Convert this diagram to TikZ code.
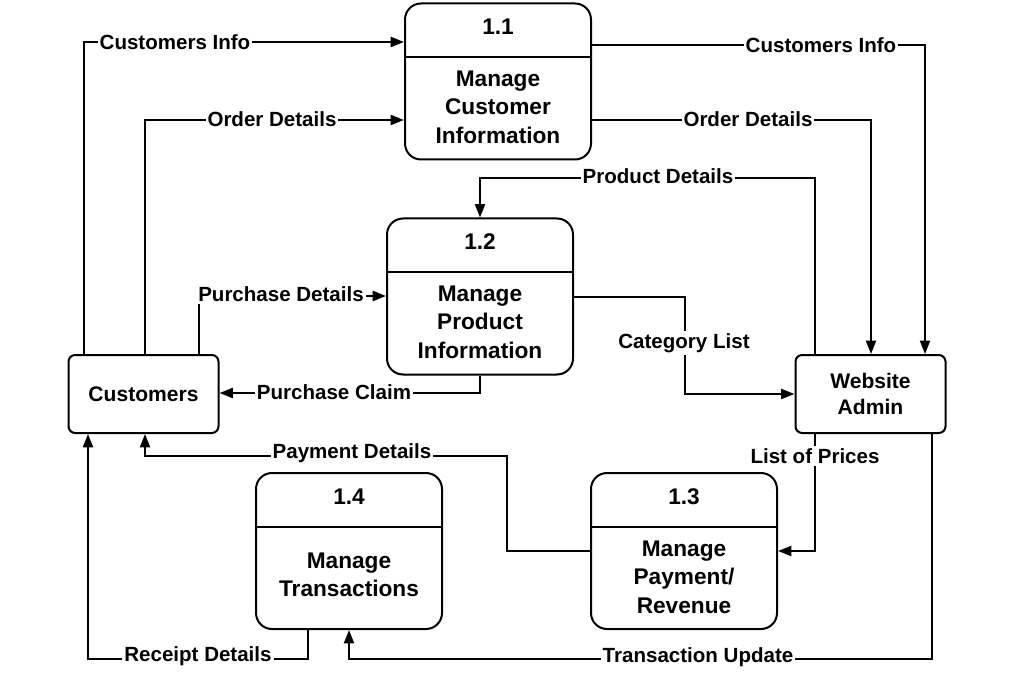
\documentclass[tikz,border=0pt]{standalone}
\usepackage{fontspec}
\setmainfont{Liberation Sans}
\usetikzlibrary{arrows.meta}
\begin{document}
\begin{tikzpicture}[x=0.75pt,y=-0.75pt,
 proc/.style={draw, line width=1.5pt, rounded corners=12pt, minimum width=139.5pt, minimum height=117pt, inner sep=0pt},
 ent/.style={draw, line width=1.5pt, rounded corners=5pt, minimum width=112.5pt, minimum height=58.5pt, inner sep=0pt, font=\bfseries\fontsize{15.8}{19.5}\selectfont, align=center},
 ptext/.style={font=\bfseries\fontsize{17}{21.4}\selectfont, align=center, inner sep=0pt},
 lbl/.style={fill=white, font=\bfseries\fontsize{15.4}{18}\selectfont, inner sep=1.5pt},
 flow/.style={line width=1.5pt, -{Triangle[length=10pt,width=7.5pt]}},
 divline/.style={line width=1.5pt}
]
\useasboundingbox (0,0) rectangle (1027,698);

% process boxes
\node[proc] (p11) at (498,81.5) {};
\node[proc] (p12) at (480,296.5) {};
\node[proc] (p14) at (349,551) {};
\node[proc] (p13) at (684,551) {};
\draw[divline] (p11.west |- 0,57) -- (p11.east |- 0,57);
\draw[divline] (p12.west |- 0,272) -- (p12.east |- 0,272);
\draw[divline] (p14.west |- 0,527) -- (p14.east |- 0,527);
\draw[divline] (p13.west |- 0,527) -- (p13.east |- 0,527);

\node[ptext] (n11) at (498,27) {1.1};
\node[ptext] (t11) at (498,107) {Manage\\Customer\\Information};
\node[ptext] (n12) at (480,242) {1.2};
\node[ptext] (t12) at (480,322) {Manage\\Product\\Information};
\node[ptext] (n14) at (349,497) {1.4};
\node[ptext] (t14) at (349,575) {Manage\\Transactions};
\node[ptext] (n13) at (684,497) {1.3};
\node[ptext] (t13) at (684,577) {Manage\\Payment/\\Revenue};

% entities
\node[ent] (cust) at (143.5,394) {Customers};
\node[ent] (admin) at (870.5,394) {Website\\Admin};

% flows
\draw[flow] (cust.north -| 84,0) |- (p11.west |- 0,42);
\draw[flow] (cust.north -| 145,0) |- (p11.west |- 0,120);
\draw[flow] (cust.north -| 199,0) |- (p12.west |- 0,296);
\draw[flow] (p12.south) |- (cust.east |- 0,393);
\draw[flow] (admin.north -| 815,0) |- (480,178) -- (p12.north);
\draw[flow] (p11.east |- 0,120) -| (admin.north -| 871,0);
\draw[flow] (p11.east |- 0,45) -| (admin.north -| 925,0);
\draw[flow] (p12.east |- 0,297) -| (685,394) -- (admin.west |- 0,394);
\draw[flow] (admin.south -| 815,0) |- (p13.east |- 0,551);
\draw[flow] (admin.south -| 932,0) |- (349,659) -- (p14.south);
\draw[flow] (p13.west |- 0,551) -| (507,456) -| (cust.south -| 145,0);
\draw[flow] (p14.south -| 308,0) |- (88,659) -- (cust.south -| 88,0);

% labels
\node[lbl] (l1) at (175,42) {Customers Info};
\node[lbl] (l2) at (272,119) {Order Details};
\node[lbl] (l3) at (821,45) {Customers Info};
\node[lbl] (l4) at (748,119) {Order Details};
\node[lbl] (l5) at (658,176) {Product Details};
\node[lbl] (l6) at (281,294) {Purchase Details};
\node[lbl] (l7) at (334,392) {Purchase Claim};
\node[lbl] (l8) at (684,343) {Category List};
\node[lbl] (l9) at (815,456) {List of Prices};
\node[lbl] (l10) at (352,453) {Payment Details};
\node[lbl] (l11) at (198,656) {Receipt Details};
\node[lbl] (l12) at (698,657) {Transaction Update};
\end{tikzpicture}
\end{document}
